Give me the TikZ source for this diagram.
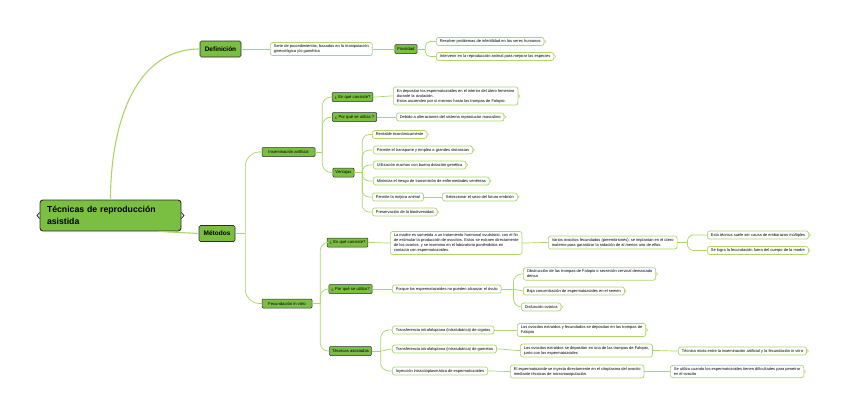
\documentclass[tikz,border=0pt]{standalone}
\usepackage{fontspec}
\setmainfont{Liberation Sans}
\usepackage{xcolor}
\usepackage{tikz}
\usetikzlibrary{positioning,calc}
\definecolor{mapgreen}{RGB}{122, 190, 66}
\definecolor{linkgreen}{RGB}{168, 214, 104}
\definecolor{edgegray}{RGB}{45, 45, 45}

\begin{document}
\begin{tikzpicture}[x=1pt, y=-1pt]
\tikzset{
  rootbox/.style={rectangle, rounded corners=3pt, draw=edgegray, line width=0.9pt, fill=mapgreen,
    minimum width=141pt, minimum height=31pt, text width=127pt, align=left,
    font=\fontsize{8.7}{11.5}\selectfont\bfseries},
  topicbox/.style={rectangle, rounded corners=1.5pt, draw=edgegray, line width=0.7pt, fill=mapgreen,
    minimum height=16pt, inner xsep=4pt, font=\fontsize{6.5}{7.5}\selectfont\bfseries},
  subbox/.style={rectangle, rounded corners=1pt, draw=edgegray, line width=0.5pt, fill=mapgreen,
    minimum height=9pt, inner xsep=2.5pt, inner ysep=1pt, font=\fontsize{4.2}{5}\selectfont},
  leafbox/.style={rectangle, rounded corners=2.5pt, draw=linkgreen, line width=0.7pt, fill=white,
    anchor=west, minimum height=8pt, inner xsep=3.5pt, inner ysep=2.2pt, align=left,
    font=\fontsize{4}{5}\selectfont},
  endleaf/.style={leafbox, append after command={
    ([yshift=1.6pt]\tikzlastnode.east) edge[link, line width=0.5pt] ([xshift=1.6pt]\tikzlastnode.east)
    ([xshift=1.6pt]\tikzlastnode.east) edge[link, line width=0.5pt] ([yshift=-1.6pt]\tikzlastnode.east)}},
  rootlink/.style={draw=linkgreen, line width=1.1pt},
  link/.style={draw=linkgreen, line width=0.7pt}
}
\useasboundingbox (0,0) rectangle (848,415);

% centre and main topics
\node[rootbox] (root) at (110.5,215.5) {Técnicas de reproducción\\asistida};
\node[topicbox, minimum width=41pt] (def) at (220.5,49) {Definición};
\node[topicbox, minimum width=36pt] (met) at (217,233.5) {Métodos};

% Definicion branch
\node[leafbox] (def1) at (270,49) {Serie de procedimientos,  basados en la manipulación\\ginecológica y/o gamética};
\node[subbox, minimum width=22pt] (fin) at (406,49) {Finalidad};
\node[endleaf] (fin1) at (436,41.5) {Resolver problemas de infertilidad en los seres humanos};
\node[endleaf] (fin2) at (436,56.5) {Intervenir en la reproducción animal para mejorar las especies};

% Inseminacion artificial
\node[subbox, minimum width=53pt] (ia) at (288.5,152) {Inseminación artificial};
\node[subbox, minimum width=39pt] (iaq1) at (352.5,97) {¿ En qué consiste?};
\node[endleaf] (iaa1) at (393,96) {En depositar los espermatozoides en el interior del útero femenino\\durante la ovulación.\\Estos ascienden por sí mismos hasta las trompas de Falopio.};
\node[subbox, minimum width=43pt] (iaq2) at (354.5,117) {¿ Por qué se utiliza ?};
\node[endleaf] (iaa2) at (396,117) {Debido a alteraciones del sistema reproductor masculino};
\node[subbox, minimum width=21pt] (vent) at (343.5,172.5) {Ventajas};
\node[endleaf] (v1) at (372,134.5) {Rentable económicamente};
\node[endleaf] (v2) at (373,150) {Permite el transporte y empleo a grandes  distancias};
\node[endleaf] (v3) at (373,165) {Utilización machos con buena dotación genética};
\node[endleaf] (v4) at (373,181) {Minimiza el riesgo de transmisión de enfermedades venéreas};
\node[leafbox] (v5) at (372,197) {Permite la mejora animal};
\node[endleaf] (v5a) at (442,197) {Seleccionar el sexo del futuro embrión};
\node[endleaf] (v6) at (372,212) {Preservación de la biodiversidad};

% Fecundacion in vitro
\node[subbox, minimum width=50pt] (fiv) at (287,303.5) {Fecundación in vitro};
\node[subbox, minimum width=35pt] (fivq1) at (347.5,242.5) {¿ En qué consiste?};
\node[leafbox] (fiva1) at (390,243) {La madre es sometida a un tratamiento hormonal ovulatorio, con el fin\\de estimular la producción de ovocitos. Estos se extraen directamente\\de los ovarios, y se insemina en el laboratorio poniéndolos en\\contacto con espermatozoides.};
\node[leafbox] (fiva1b) at (548,242.5) {Varios ovocitos fecundados  (preembriones), se implantan en el útero\\materno para garantizar la nidación de al menos uno de ellos.};
\node[endleaf] (m1) at (707,235) {Esta técnica suele ser causa de embarazos múltiples};
\node[endleaf] (m2) at (707,250.5) {Se logra la fecundación fuera del cuerpo de la madre};
\node[subbox, minimum width=41pt] (fivq2) at (350.5,289) {¿ Por qué se utiliza?};
\node[leafbox] (fiva2) at (392,289) {Porque los espermatozoides no pueden alcanzar el óvulo};
\node[endleaf] (c1) at (523,274) {Obstrucción de las trompas de Falopio o secreción cervical demasiado\\densa};
\node[endleaf] (c2) at (523,291) {Baja concentración de espermatozoides en el semen};
\node[endleaf] (c3) at (521,307) {Disfunción ovárica};
\node[subbox, minimum width=41pt] (tec) at (350.5,351) {Técnicas asociadas};
\node[leafbox] (t1) at (392,330) {Transferencia intrafalopiana (intratubárica) de cigotos};
\node[endleaf] (t1a) at (517,330) {Los ovocitos extraídos y fecundados  se depositan en las trompas de\\Falopio};
\node[leafbox] (t2) at (392,349) {Transferencia intrafalopiana (intratubárica) de gametos};
\node[leafbox] (t2a) at (520,350.5) {Los ovocitos extraídos se depositan en una de las trompas de Falopio,\\junto con los espermatozoides};
\node[endleaf] (t2b) at (678,351) {Técnica mixta entre la inseminación artificial y la fecundación in vitro};
\node[leafbox] (t3) at (392,371) {Inyección intracitoplasmática de espermatozoides};
\node[leafbox] (t3a) at (510,371.5) {El espermatozoide se inyecta directamente en el citoplasma del ovocito\\mediante técnicas de micromanipulación.};
\node[endleaf] (t3b) at (670,371.5) {Se utiliza cuando los espermatozoides tienen dificultades para penetrar\\en el ovocito};

% braces on the central topic
\draw[edgegray, line width=0.8pt] ([yshift=3pt]root.west) -- ([xshift=-2.5pt]root.west) -- ([yshift=-3pt]root.west);
\draw[edgegray, line width=0.8pt] ([yshift=3pt]root.east) -- ([xshift=2.5pt]root.east) -- ([yshift=-3pt]root.east);

% trunk points
\coordinate (fin-t) at ($(fin.east)+(8,0)$);
\coordinate (met-t) at ($(met.east)+(10,0)$);
\coordinate (ia-t) at ($(ia.east)+(7,0)$);
\coordinate (vent-t) at ($(vent.east)+(8,0)$);
\coordinate (fiv-t) at ($(fiv.east)+(8,0)$);
\coordinate (fiva1b-t) at ($(fiva1b.east)+(10,0)$);
\coordinate (fiva2-t) at ($(fiva2.east)+(12,0)$);
\coordinate (tec-t) at ($(tec.east)+(9,0)$);

% links
\draw[rootlink] (root.north) to[out=90, in=180] (def.west);
\draw[rootlink] ([xshift=-23pt]root.south east) -- (met.west);
\draw[link] (def) -- (def1);
\draw[link] (def1) -- (fin);
\draw[link] (fin.east) -- (fin-t);
\draw[link, rounded corners=5pt] (fin-t) |- (fin1.west);
\draw[link, rounded corners=5pt] (fin-t) |- (fin2.west);
\draw[link] (met.east) -- (met-t);
\draw[link, rounded corners=14pt] (met-t) |- (ia.west);
\draw[link, rounded corners=14pt] (met-t) |- (fiv.west);
\draw[link] (ia.east) -- (ia-t);
\draw[link, rounded corners=9pt] (ia-t) |- (iaq1.west);
\draw[link, rounded corners=9pt] (ia-t) |- (iaq2.west);
\draw[link, rounded corners=9pt] (ia-t) |- (vent.west);
\draw[link] (iaq1.east) to[out=0, in=180] (iaa1.west);
\draw[link] (iaq2) -- (iaa2);
\draw[link] (vent.east) -- (vent-t);
\draw[link, rounded corners=7pt] (vent-t) |- (v1.west);
\draw[link, rounded corners=7pt] (vent-t) |- (v2.west);
\draw[link, rounded corners=7pt] (vent-t) |- (v3.west);
\draw[link, rounded corners=7pt] (vent-t) |- (v4.west);
\draw[link, rounded corners=7pt] (vent-t) |- (v5.west);
\draw[link, rounded corners=7pt] (vent-t) |- (v6.west);
\draw[link] (v5) -- (v5a);
\draw[link] (fiv.east) -- (fiv-t);
\draw[link, rounded corners=8pt] (fiv-t) |- (fivq1.west);
\draw[link, rounded corners=8pt] (fiv-t) |- (fivq2.west);
\draw[link, rounded corners=8pt] (fiv-t) |- (tec.west);
\draw[link] (fivq1.east) to[out=0, in=180] (fiva1.west);
\draw[link] (fiva1.east) to[out=0, in=180] (fiva1b.west);
\draw[link] (fiva1b.east) -- (fiva1b-t);
\draw[link, rounded corners=6pt] (fiva1b-t) |- (m1.west);
\draw[link, rounded corners=6pt] (fiva1b-t) |- (m2.west);
\draw[link] (fivq2) -- (fiva2);
\draw[link] (fiva2.east) -- (fiva2-t);
\draw[link, rounded corners=8pt] (fiva2-t) |- (c1.west);
\draw[link] (fiva2-t) to[out=0, in=180] (c2.west);
\draw[link, rounded corners=8pt] (fiva2-t) |- (c3.west);
\draw[link] (tec.east) -- (tec-t);
\draw[link, rounded corners=8pt] (tec-t) |- (t1.west);
\draw[link] (tec-t) to[out=0, in=180] (t2.west);
\draw[link, rounded corners=8pt] (tec-t) |- (t3.west);
\draw[link] (t1) -- (t1a);
\draw[link] (t2.east) to[out=0, in=180] (t2a.west);
\draw[link] (t2a.east) to[out=0, in=180] (t2b.west);
\draw[link] (t3.east) to[out=0, in=180] (t3a.west);
\draw[link] (t3a.east) to[out=0, in=180] (t3b.west);
\end{tikzpicture}
\end{document}
